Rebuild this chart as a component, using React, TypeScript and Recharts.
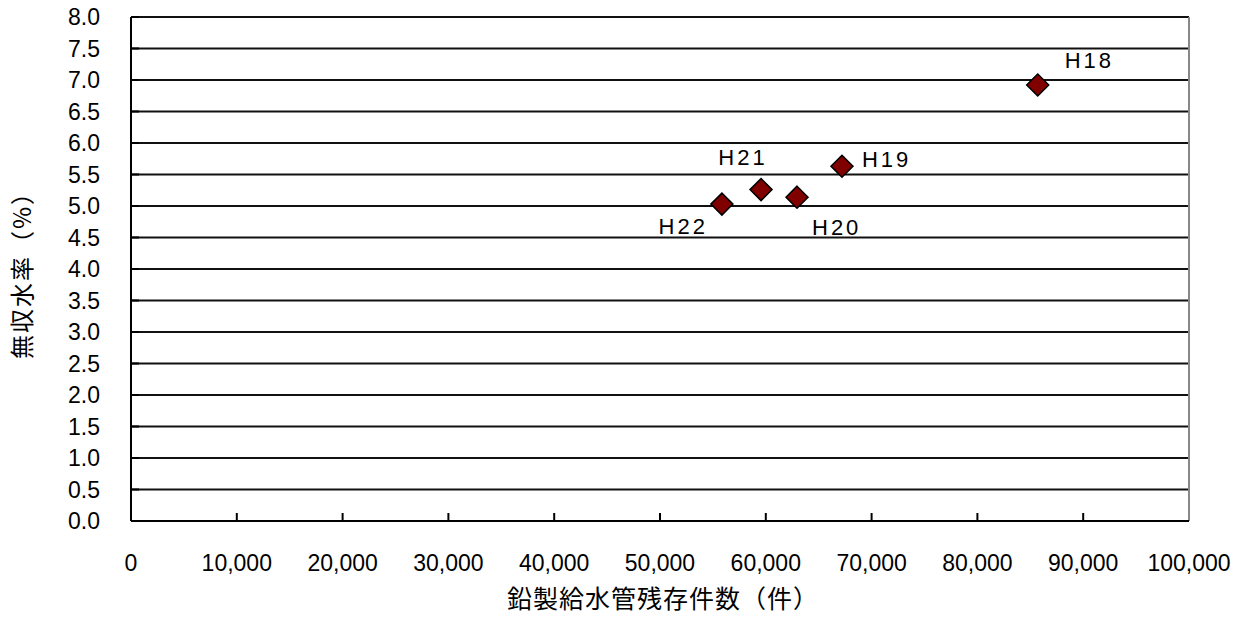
import React from 'react';
import { ScatterChart, Scatter, XAxis, YAxis, CartesianGrid, ReferenceLine, LabelList } from 'recharts';

const yearLabels = ['H18', 'H19', 'H20', 'H21', 'H22'];
const leadPipeCounts = [85700, 67200, 62950, 59550, 55850];
const nonRevenueRates = [6.92, 5.63, 5.14, 5.26, 5.03];
const xTicks = [0, 10000, 20000, 30000, 40000, 50000, 60000, 70000, 80000, 90000, 100000];
const yTicks = [0, 0.5, 1, 1.5, 2, 2.5, 3, 3.5, 4, 4.5, 5, 5.5, 6, 6.5, 7, 7.5, 8];

const data = yearLabels.map((name, i) => ({ name, x: leadPipeCounts[i], y: nonRevenueRates[i] }));

const labelPlacement: Record<string, { dx: number; dy: number; anchor: 'start' | 'middle' | 'end' }> = {
  H18: { dx: 27, dy: -25, anchor: 'start' },
  H19: { dx: 20, dy: -7, anchor: 'start' },
  H20: { dx: 15, dy: 30, anchor: 'start' },
  H21: { dx: -18, dy: -32, anchor: 'middle' },
  H22: { dx: -14, dy: 22, anchor: 'end' },
};

const NUM_FONT = '"Liberation Sans", Arial, sans-serif';
const CJK_FONT = '"Noto Sans CJK JP", sans-serif';

const fmt = (v: number) => v.toLocaleString('en-US');

const XTick = (props: any) => {
  const { x, y, payload } = props;
  return (
    <g>
      {payload.value !== 0 && payload.value !== 100000 ? (
        <line x1={x} y1={y} x2={x} y2={y - 8} stroke="#000" strokeWidth={2} />
      ) : null}
      <text x={x} y={y + 42} textAnchor="middle" dominantBaseline="central" fontFamily={NUM_FONT} fontSize={23} fill="#000">
        {fmt(payload.value)}
      </text>
    </g>
  );
};

const YTick = (props: any) => {
  const { x, y, payload } = props;
  return (
    <g>
      <line x1={x} y1={y} x2={x + 8} y2={y} stroke="#000" strokeWidth={2} />
      <text x={x - 31} y={y} textAnchor="end" dominantBaseline="central" fontFamily={NUM_FONT} fontSize={23} fill="#000">
        {payload.value.toFixed(1)}
      </text>
    </g>
  );
};

const Diamond = (props: any) => {
  const { cx, cy } = props;
  const r = 11;
  return (
    <path
      d={`M${cx},${cy - r} L${cx + r},${cy} L${cx},${cy + r} L${cx - r},${cy} Z`}
      fill="#800000"
      stroke="#000"
      strokeWidth={1.5}
    />
  );
};

const PointLabel = (props: any) => {
  const { x, y, width, height, value } = props;
  const p = labelPlacement[value] || { dx: 15, dy: -15, anchor: 'start' };
  const cx = x + (width || 0) / 2;
  const cy = y + (height || 0) / 2;
  return (
    <text
      x={cx + p.dx}
      y={cy + p.dy}
      textAnchor={p.anchor}
      dominantBaseline="central"
      fontFamily={NUM_FONT}
      fontSize={22}
      letterSpacing={3}
      fill="#000"
    >
      {value}
    </text>
  );
};

export default function App() {
  return (
    <div style={{ position: 'absolute', left: 0, top: 0, width: 1250, height: 639, background: '#fff' }}>
      <ScatterChart width={1250} height={639} margin={{ top: 17, right: 61, bottom: 0, left: 0 }}>
        <CartesianGrid horizontal vertical={false} stroke="#111" strokeWidth={2} />
        <XAxis
          type="number"
          dataKey="x"
          domain={[0, 100000]}
          ticks={xTicks}
          interval={0}
          height={118}
          tickSize={0}
          tickMargin={0}
          tickLine={false}
          axisLine={{ stroke: '#000', strokeWidth: 2 }}
          tick={<XTick />}
          label={{
            content: (lp: any) => {
              const vb = lp.viewBox || { x: 131, y: 521, width: 1058 };
              return (
                <text x={vb.x + vb.width / 2 + 3} y={vb.y + 76} textAnchor="middle" dominantBaseline="central" fontFamily={CJK_FONT} fontSize={25} letterSpacing={1} fill="#000">
                  鉛製給水管残存件数（件）
                </text>
              );
            },
          }}
        />
        <YAxis
          type="number"
          dataKey="y"
          domain={[0, 8]}
          ticks={yTicks}
          interval={0}
          width={131}
          tickSize={0}
          tickMargin={0}
          tickLine={false}
          axisLine={{ stroke: '#000', strokeWidth: 2 }}
          tick={<YTick />}
          label={{
            content: (lp: any) => {
              const vb = lp.viewBox || { x: 0, y: 17, height: 504 };
              const cx = 20;
              const cy = vb.y + vb.height / 2;
              return (
                <text x={cx} y={cy} transform={`rotate(-90 ${cx} ${cy})`} textAnchor="middle" dominantBaseline="central" fontFamily={CJK_FONT} fontSize={24} letterSpacing={2} fill="#000">
                  無収水率（%）
                </text>
              );
            },
          }}
        />
        <ReferenceLine x={100000} stroke="#888" strokeWidth={2} />
        <Scatter data={data} shape={<Diamond />} isAnimationActive={false}>
          <LabelList dataKey="name" content={<PointLabel />} />
        </Scatter>
      </ScatterChart>
    </div>
  );
}
